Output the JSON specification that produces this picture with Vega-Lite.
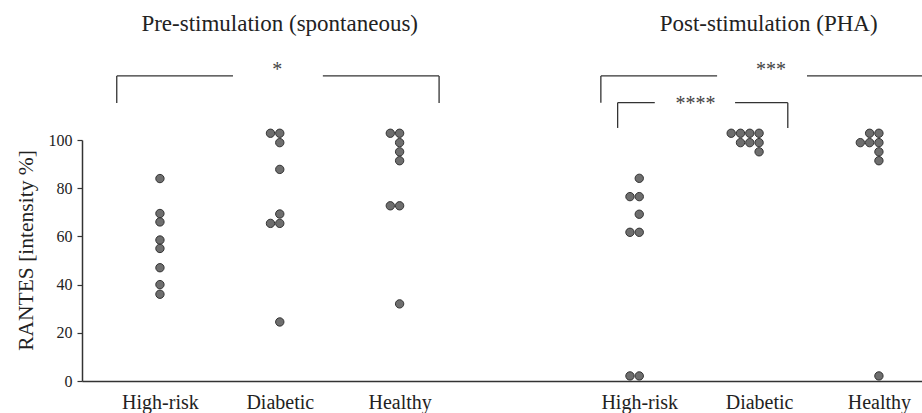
{
  "$schema": "https://vega.github.io/schema/vega-lite/v6.json",
  "width": 840,
  "height": 241,
  "autosize": {"type": "none"},
  "padding": {"left": 82, "top": 140, "right": 0, "bottom": 32},
  "background": "white",
  "config": {
    "view": {"stroke": null},
    "font": "Liberation Serif",
    "axis": {"labelFont": "Liberation Serif", "titleFont": "Liberation Serif"}
  },
  "datasets": {
    "rantes": [
      {"cell": "Pre High-risk", "val": 84},
      {"cell": "Pre High-risk", "val": 69.5},
      {"cell": "Pre High-risk", "val": 66},
      {"cell": "Pre High-risk", "val": 58.5},
      {"cell": "Pre High-risk", "val": 55},
      {"cell": "Pre High-risk", "val": 47},
      {"cell": "Pre High-risk", "val": 40},
      {"cell": "Pre High-risk", "val": 36},
      {"cell": "Pre Diabetic", "val": 102.8},
      {"cell": "Pre Diabetic", "val": 102.8},
      {"cell": "Pre Diabetic", "val": 98.9},
      {"cell": "Pre Diabetic", "val": 87.8},
      {"cell": "Pre Diabetic", "val": 69.3},
      {"cell": "Pre Diabetic", "val": 65.4},
      {"cell": "Pre Diabetic", "val": 65.4},
      {"cell": "Pre Diabetic", "val": 24.5},
      {"cell": "Pre Healthy", "val": 102.8},
      {"cell": "Pre Healthy", "val": 102.8},
      {"cell": "Pre Healthy", "val": 98.9},
      {"cell": "Pre Healthy", "val": 95.1},
      {"cell": "Pre Healthy", "val": 91.4},
      {"cell": "Pre Healthy", "val": 72.7},
      {"cell": "Pre Healthy", "val": 72.7},
      {"cell": "Pre Healthy", "val": 32},
      {"cell": "Post High-risk", "val": 84.1},
      {"cell": "Post High-risk", "val": 76.5},
      {"cell": "Post High-risk", "val": 76.5},
      {"cell": "Post High-risk", "val": 69.2},
      {"cell": "Post High-risk", "val": 61.7},
      {"cell": "Post High-risk", "val": 61.7},
      {"cell": "Post High-risk", "val": 2.1},
      {"cell": "Post High-risk", "val": 2.1},
      {"cell": "Post Diabetic", "val": 102.8},
      {"cell": "Post Diabetic", "val": 102.8},
      {"cell": "Post Diabetic", "val": 102.8},
      {"cell": "Post Diabetic", "val": 102.8},
      {"cell": "Post Diabetic", "val": 98.9},
      {"cell": "Post Diabetic", "val": 98.9},
      {"cell": "Post Diabetic", "val": 98.9},
      {"cell": "Post Diabetic", "val": 95.1},
      {"cell": "Post Healthy", "val": 102.8},
      {"cell": "Post Healthy", "val": 102.8},
      {"cell": "Post Healthy", "val": 98.9},
      {"cell": "Post Healthy", "val": 98.9},
      {"cell": "Post Healthy", "val": 98.9},
      {"cell": "Post Healthy", "val": 95.1},
      {"cell": "Post Healthy", "val": 91.4},
      {"cell": "Post Healthy", "val": 2.1}
    ],
    "brackets": [
      {"pos": -0.36, "pos2": -0.36, "val": 115.4, "val2": 126.6},
      {"pos": -0.36, "pos2": 0.61, "val": 126.6, "val2": 126.6},
      {"pos": 1.36, "pos2": 2.33, "val": 126.6, "val2": 126.6},
      {"pos": 2.33, "pos2": 2.33, "val": 126.6, "val2": 115.4},
      {"pos": 3.68, "pos2": 3.68, "val": 115.5, "val2": 126.6},
      {"pos": 3.68, "pos2": 4.65, "val": 126.6, "val2": 126.6},
      {"pos": 5.4, "pos2": 6.45, "val": 126.6, "val2": 126.6},
      {"pos": 3.82, "pos2": 3.82, "val": 105, "val2": 115.5},
      {"pos": 3.82, "pos2": 4.13, "val": 115.5, "val2": 115.5},
      {"pos": 4.8, "pos2": 5.24, "val": 115.5, "val2": 115.5},
      {"pos": 5.24, "pos2": 5.24, "val": 115.5, "val2": 105}
    ],
    "stars": [
      {"pos": 0.98, "val": 126.6, "label": "*"},
      {"pos": 5.1, "val": 126.6, "label": "***"},
      {"pos": 4.47, "val": 112.4, "label": "****"}
    ],
    "headings": [
      {"pos": 1, "val": 145.4, "label": "Pre-stimulation (spontaneous)"},
      {"pos": 5.08, "val": 145.4, "label": "Post-stimulation (PHA)"}
    ]
  },
  "encoding": {
    "y": {
      "field": "val",
      "type": "quantitative",
      "scale": {"domain": [0, 100], "nice": false},
      "axis": {
        "values": [0, 20, 40, 60, 80, 100],
        "title": "RANTES [intensity %]",
        "grid": false,
        "tickSize": 5,
        "tickColor": "#333",
        "tickWidth": 1.2,
        "domainColor": "#333",
        "domainWidth": 1.5,
        "labelFontSize": 16,
        "labelColor": "#222",
        "labelPadding": 5,
        "titleFontSize": 21.5,
        "titleFontWeight": "normal",
        "titleColor": "#222",
        "titleBaseline": "alphabetic",
        "titleX": -50,
        "titleY": 110
      }
    }
  },
  "layer": [
    {
      "encoding": {
        "x": {
          "field": "pos",
          "type": "quantitative",
          "scale": {"domain": [-0.65, 6.36], "nice": false, "zero": false},
          "axis": null
        }
      },
      "layer": [
        {
          "data": {"name": "brackets"},
          "mark": {"type": "rule", "stroke": "#333", "strokeWidth": 1.3},
          "encoding": {
            "x2": {"field": "pos2"},
            "y2": {"field": "val2"}
          }
        },
        {
          "data": {"name": "stars"},
          "mark": {"type": "text", "fontSize": 20, "baseline": "alphabetic", "align": "center", "color": "#444", "font": "Liberation Serif"},
          "encoding": {"text": {"field": "label"}}
        },
        {
          "data": {"name": "headings"},
          "mark": {"type": "text", "fontSize": 23, "baseline": "alphabetic", "align": "center", "color": "#222", "font": "Liberation Serif"},
          "encoding": {"text": {"field": "label"}}
        }
      ]
    },
    {
      "data": {"name": "rantes"},
      "transform": [
        {"window": [{"op": "row_number", "as": "rank"}], "groupby": ["cell", "val"]}
      ],
      "mark": {"type": "circle", "size": 70, "fill": "#6e6e6e", "stroke": "#333", "strokeWidth": 1, "opacity": 1},
      "encoding": {
        "x": {
          "field": "cell",
          "type": "nominal",
          "scale": {
            "type": "point",
            "domain": ["Pre High-risk", "Pre Diabetic", "Pre Healthy", "gap", "Post High-risk", "Post Diabetic", "Post Healthy"],
            "padding": 0.505,
            "align": 0.644
          },
          "axis": {
            "labelExpr": "datum.label == 'gap' ? '' : replace(replace(datum.label, 'Post ', ''), 'Pre ', '')",
            "title": null,
            "grid": false,
            "ticks": false,
            "labelAngle": 0,
            "domainColor": "#333",
            "domainWidth": 1.5,
            "labelFontSize": 20,
            "labelColor": "#222",
            "labelPadding": 11,
            "labelOverlap": false,
            "labelBound": false
          }
        },
        "xOffset": {
          "field": "rank",
          "type": "quantitative",
          "scale": {"domain": [1, 4], "range": [0, -27.9], "nice": false, "zero": false}
        }
      }
    }
  ],
  "resolve": {"scale": {"x": "independent"}, "axis": {"x": "independent"}}
}
